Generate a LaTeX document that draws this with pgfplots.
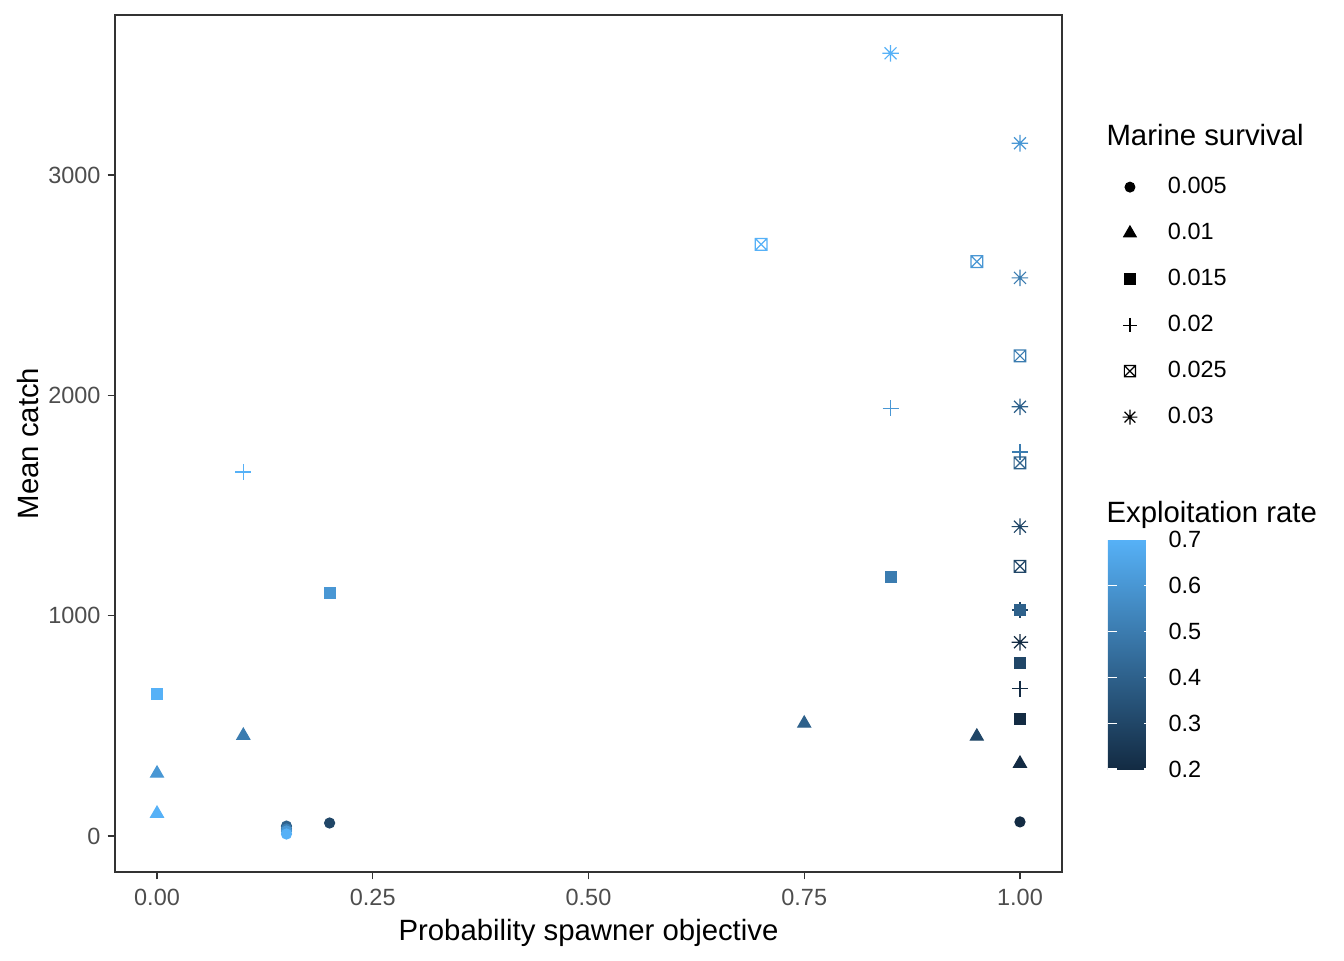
\documentclass[border=0pt]{standalone}
\usepackage{pgfplots}
\pgfplotsset{compat=1.18}
\usepackage{fontspec}
\setmainfont{Liberation Sans}
\usetikzlibrary{calc}
\definecolor{tickgray}{HTML}{4D4D4D}
\definecolor{framegray}{HTML}{333333}
\newcommand{\ticksize}{\fontsize{8.8}{10.6}\selectfont}
\newcommand{\labsize}{\fontsize{11}{13.2}\selectfont}
\pgfdeclareplotmark{boxx}{%
  \pgfpathrectangle{\pgfpoint{-\pgfplotmarksize}{-\pgfplotmarksize}}{\pgfpoint{2\pgfplotmarksize}{2\pgfplotmarksize}}%
  \pgfpathmoveto{\pgfpoint{-\pgfplotmarksize}{-\pgfplotmarksize}}\pgfpathlineto{\pgfpoint{\pgfplotmarksize}{\pgfplotmarksize}}%
  \pgfpathmoveto{\pgfpoint{-\pgfplotmarksize}{\pgfplotmarksize}}\pgfpathlineto{\pgfpoint{\pgfplotmarksize}{-\pgfplotmarksize}}%
  \pgfusepathqstroke}
\pgfdeclareplotmark{ast8}{%
  \pgfpathmoveto{\pgfpoint{-\pgfplotmarksize}{0pt}}\pgfpathlineto{\pgfpoint{\pgfplotmarksize}{0pt}}%
  \pgfpathmoveto{\pgfpoint{0pt}{-\pgfplotmarksize}}\pgfpathlineto{\pgfpoint{0pt}{\pgfplotmarksize}}%
  \pgfpathmoveto{\pgfpoint{-0.72\pgfplotmarksize}{-0.72\pgfplotmarksize}}\pgfpathlineto{\pgfpoint{0.72\pgfplotmarksize}{0.72\pgfplotmarksize}}%
  \pgfpathmoveto{\pgfpoint{-0.72\pgfplotmarksize}{0.72\pgfplotmarksize}}\pgfpathlineto{\pgfpoint{0.72\pgfplotmarksize}{-0.72\pgfplotmarksize}}%
  \pgfusepathqstroke}

\pgfplotstableread{
x y c
1.00 64 0.2
0.20 59 0.3
0.15 45 0.4
0.15 32 0.5
0.15 23 0.6
0.15 9 0.7
}\circdata
\pgfplotstableread{
x y c
1.00 329 0.2
0.95 452 0.3
0.75 511 0.4
0.10 456 0.5
0.00 284 0.6
0.00 102 0.7
}\tridata
\pgfplotstableread{
x y c
1.00 530 0.2
1.00 787 0.3
1.00 1026 0.4
0.85 1177 0.5
0.20 1103 0.6
0.00 644 0.7
}\sqdata
\pgfplotstableread{
x y c
1.00 669 0.2
1.00 1026 0.3
1.00 1743 0.5
0.85 1941 0.6
0.10 1652 0.7
}\plusdata
\pgfplotstableread{
x y c
1.00 1224 0.3
1.00 1693 0.4
1.00 2179 0.5
0.95 2607 0.6
0.70 2685 0.7
}\boxdata
\pgfplotstableread{
x y c
1.00 879 0.2
1.00 1404 0.3
1.00 1948 0.4
1.00 2533 0.5
1.00 3144 0.6
0.85 3552 0.7
}\astdata

\begin{document}
\begin{tikzpicture}
\path[use as bounding box] (0,0) rectangle (504pt,360pt);
\begin{axis}[
  at={(43.125pt,33pt)}, anchor=south west,
  scale only axis, width=355.125pt, height=321.375pt,
  xmin=-0.0487, xmax=1.0487, ymin=-163.4, ymax=3726,
  xtick={0,0.25,0.5,0.75,1},
  xticklabels={0.00,0.25,0.50,0.75,1.00},
  ytick={0,1000,2000,3000},
  yticklabels={0,1000,2000,3000},
  tick align=outside, xtick pos=bottom, ytick pos=left,
  major tick length=2.75pt,
  tick style={framegray, line width=0.5pt},
  axis line style={framegray, line width=0.5pt},
  tick label style={font=\ticksize, text=tickgray},
  xticklabel style={inner sep=0pt, anchor=north, yshift=-3.4pt},
  yticklabel style={inner sep=0pt, anchor=east, xshift=-2.5pt},
  colormap={gg}{rgb255=(19,43,67) rgb255=(86,177,247)},
  point meta min=0.2, point meta max=0.7,
  clip=false,
  legend image code/.code={%
    \pgfpathrectangle{\pgfpoint{-4pt}{-8.625pt}}{\pgfpoint{18.25pt}{17.25pt}}\pgfusepath{}%
    \draw[#1] plot coordinates {(0pt,0pt)};},
  legend style={at={(axis description cs:1.0605,0.8260)}, anchor=north west,
    draw=none, fill=none, inner sep=0pt, outer sep=0pt,
    column sep=0pt, row sep=0pt,
    nodes={inner sep=0pt, font=\ticksize, text=black},
    cells={anchor=west}},
  legend cell align=left,
  colorbar,
  colorbar style={
    at={($(parent axis.south east)+(8.65pt,38.6pt)$)}, anchor=south west,
    scale only axis, width=17pt, height=86pt,
    ytick={0.2,0.3,0.4,0.5,0.6,0.7},
    yticklabels={0.2,0.3,0.4,0.5,0.6,0.7},
    yticklabel pos=right, ytick pos=both,
    tick align=inside, major tick length=3.4pt,
    tick style={white, line width=0.45pt},
    axis line style={draw=none},
    yticklabel style={font=\ticksize, text=black, inner sep=0pt, anchor=west, xshift=5.6pt},
  },
  scatter/use mapped color={draw=mapped color, fill=mapped color},
]
\addplot[scatter, only marks, mark=*, mark size=1.9pt, point meta=explicit, forget plot]
  table[x=x, y=y, meta=c] {\circdata};
\addplot[scatter, only marks, mark=triangle*, mark size=2.8pt, point meta=explicit, forget plot]
  table[x=x, y=y, meta=c] {\tridata};
\addplot[scatter, only marks, mark=+, mark size=3pt, line width=0.45pt, point meta=explicit, forget plot]
  table[x=x, y=y, meta=c] {\plusdata};
\addplot[scatter, only marks, mark=boxx, mark size=2.2pt, line width=0.45pt, point meta=explicit, forget plot]
  table[x=x, y=y, meta=c] {\boxdata};
\addplot[scatter, only marks, mark=ast8, mark size=3.1pt, line width=0.45pt, point meta=explicit, forget plot]
  table[x=x, y=y, meta=c] {\astdata};
\addplot[scatter, only marks, mark=square*, mark size=2.05pt, point meta=explicit, forget plot]
  table[x=x, y=y, meta=c] {\sqdata};

\addlegendimage{only marks, mark=*, black, mark size=1.85pt}
\addlegendentry{0.005}
\addlegendimage{only marks, mark=triangle*, black, mark size=2.7pt}
\addlegendentry{0.01}
\addlegendimage{only marks, mark=square*, black, mark size=2pt}
\addlegendentry{0.015}
\addlegendimage{only marks, mark=+, black, mark size=2.7pt, line width=0.45pt}
\addlegendentry{0.02}
\addlegendimage{only marks, mark=boxx, black, mark size=2.1pt, line width=0.45pt}
\addlegendentry{0.025}
\addlegendimage{only marks, mark=ast8, black, mark size=2.8pt, line width=0.45pt}
\addlegendentry{0.03}
\end{axis}
\node[anchor=base, font=\labsize, inner sep=0pt] at (220.7pt,7.5pt) {Probability spawner objective};
\node[anchor=base, rotate=90, font=\labsize, inner sep=0pt] at (14.6pt,193.7pt) {Mean catch};
\node[anchor=base west, font=\labsize, inner sep=0pt] at (414.75pt,305.6pt) {Marine survival};
\node[anchor=base west, font=\labsize, inner sep=0pt] at (414.75pt,164.25pt) {Exploitation rate};
\end{tikzpicture}
\end{document}
